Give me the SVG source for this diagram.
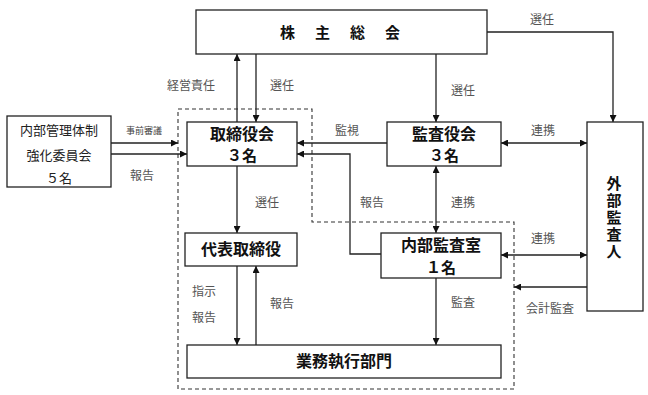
<svg xmlns="http://www.w3.org/2000/svg" width="648" height="395" viewBox="0 0 648 395">
<style>
.box{fill:#fff;stroke:#222;stroke-width:1.3}
.t{font-family:"Noto Sans CJK JP","Noto Sans CJK SC",sans-serif;font-weight:bold;font-size:15px;fill:#111;text-anchor:middle}
.c{font-family:"Noto Sans CJK JP","Noto Sans CJK SC",sans-serif;font-size:13px;fill:#222;text-anchor:middle}
.l{font-family:"Noto Sans CJK JP","Noto Sans CJK SC",sans-serif;font-size:12px;fill:#555}
.s{font-family:"Noto Sans CJK JP","Noto Sans CJK SC",sans-serif;font-size:9px;fill:#444}
.ln{fill:none;stroke:#222;stroke-width:1.3}
.d{fill:none;stroke:#333;stroke-width:1.1;stroke-dasharray:4,3}
</style>
<defs>
<marker id="a" viewBox="0 0 10 10" refX="10" refY="5" markerWidth="7" markerHeight="7" orient="auto" markerUnits="userSpaceOnUse">
<path d="M0,0L10,5L0,10z" fill="#111"/>
</marker>
<marker id="b" viewBox="0 0 10 10" refX="0" refY="5" markerWidth="7" markerHeight="7" orient="auto" markerUnits="userSpaceOnUse">
<path d="M10,0L0,5L10,10z" fill="#111"/>
</marker>
</defs>
<rect width="648" height="395" fill="#fff"/>
<path class="d" d="M178,109H312V222H514V389H178Z"/>
<g id="connectors">
<path class="ln" d="M237,122V54" marker-end="url(#a)"/>
<path class="ln" d="M256,54V122" marker-end="url(#a)"/>
<path class="ln" d="M436,54V122" marker-end="url(#a)"/>
<path class="ln" d="M487,32H613V122" marker-end="url(#a)"/>
<path class="ln" d="M111,143H178" marker-end="url(#a)"/>
<path class="ln" d="M111,154H187" marker-end="url(#a)"/>
<path class="ln" d="M387,143H297" marker-end="url(#a)"/>
<path class="ln" d="M381,254H350V154H297" marker-end="url(#a)"/>
<path class="ln" d="M501,143H587" marker-start="url(#b)" marker-end="url(#a)"/>
<path class="ln" d="M436,166V233" marker-start="url(#b)" marker-end="url(#a)"/>
<path class="ln" d="M501,255H587" marker-start="url(#b)" marker-end="url(#a)"/>
<path class="ln" d="M587,287H514" marker-end="url(#a)"/>
<path class="ln" d="M436,278V345" marker-end="url(#a)"/>
<path class="ln" d="M237,166V233" marker-end="url(#a)"/>
<path class="ln" d="M237,266V345" marker-end="url(#a)"/>
<path class="ln" d="M256,345V266" marker-end="url(#a)"/>
<text class="l" x="167" y="90">経営責任</text>
<text class="l" x="270" y="90">選任</text>
<text class="l" x="451" y="95">選任</text>
<text class="l" x="530" y="24">選任</text>
<text class="s" x="126" y="134">事前審議</text>
<text class="l" x="130" y="180">報告</text>
<text class="l" x="335" y="135">監視</text>
<text class="l" x="531" y="135">連携</text>
<text class="l" x="360" y="207">報告</text>
<text class="l" x="451" y="207">連携</text>
<text class="l" x="255" y="207">選任</text>
<text class="l" x="531" y="243">連携</text>
<text class="l" x="526" y="313">会計監査</text>
<text class="l" x="451" y="307">監査</text>
<text class="l" x="192" y="296">指示</text>
<text class="l" x="192" y="322">報告</text>
<text class="l" x="270" y="308">報告</text>
</g>
<g id="shareholders">
<rect class="box" x="196" y="10" width="291" height="44"/>
<text class="t" x="280" y="38" style="text-anchor:start;letter-spacing:20px">株主総会</text>
</g>
<g id="committee">
<rect class="box" x="7" y="116" width="104" height="71"/>
<text class="c" x="59" y="135">内部管理体制</text>
<text class="c" x="59" y="160">強化委員会</text>
<text class="c" x="59" y="183">５名</text>
</g>
<g id="board">
<rect class="box" x="187" y="122" width="110" height="44"/>
<text class="t" x="242" y="140" style="font-size:16px">取締役会</text>
<text class="t" x="242" y="161">３名</text>
</g>
<g id="auditboard">
<rect class="box" x="387" y="122" width="114" height="44"/>
<text class="t" x="444" y="140" style="font-size:16px">監査役会</text>
<text class="t" x="444" y="161">３名</text>
</g>
<g id="external">
<rect class="box" x="587" y="122" width="56" height="189"/>
<text class="t" x="614" y="176" style="text-anchor:start;writing-mode:vertical-rl;text-orientation:upright;letter-spacing:2px">外部監査人</text>
</g>
<g id="rep">
<rect class="box" x="185" y="233" width="112" height="33"/>
<text class="t" x="241" y="255" style="font-size:16px">代表取締役</text>
</g>
<g id="internalaudit">
<rect class="box" x="381" y="233" width="120" height="45"/>
<text class="t" x="441" y="251" style="font-size:16px">内部監査室</text>
<text class="t" x="441" y="273">１名</text>
</g>
<g id="business">
<rect class="box" x="187" y="345" width="314" height="33"/>
<text class="t" x="344" y="367" style="font-size:16px">業務執行部門</text>
</g>
</svg>
